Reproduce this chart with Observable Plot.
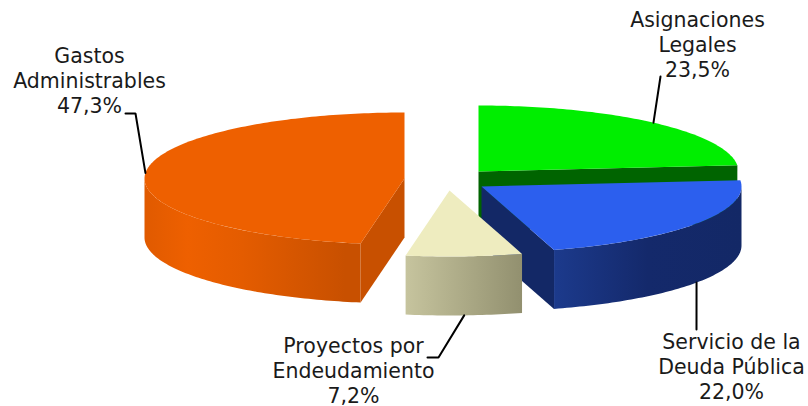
<!DOCTYPE html>
<html lang="es">
<head>
<meta charset="utf-8">
<title>Distribución del gasto</title>
<script src="https://cdn.jsdelivr.net/npm/d3@7"></script>
<script src="https://cdn.jsdelivr.net/npm/@observablehq/plot@0.6"></script>
<style>
  html, body { margin: 0; padding: 0; background: #fff; }
  svg { display: block; }
</style>
</head>
<body>
<div id="chart"></div>
<script>
// Budget shares, clockwise from twelve o'clock
const categories = ["Asignaciones\nLegales", "Servicio de la\nDeuda Pública", "Proyectos por\nEndeudamiento", "Gastos\nAdministrables"];
const shares = [23.5, 22.0, 7.2, 47.3];

// Colours per slice
const topColors = ["#00ee00", "#2c5fee", "#eeecbf", "#ee6000"];
const cutColors = ["#006400", "#132866", "#c0bf98", "#c85000"];
const rimStops = [
  [[0, "#006400"], [1, "#006400"]],
  [[0, "#1c3a8c"], [0.5, "#14296b"], [1, "#132866"]],
  [[0, "#c6c49e"], [1, "#92906f"]],
  [[0, "#e05a00"], [0.2, "#ee6000"], [0.45, "#e45c00"], [0.93, "#c85000"], [1, "#c85000"]]
];

// Pie geometry in chart units: tilted ellipse, wall height, exploded slice centres
const radiusX = 260;
const radiusY = 66;
const wall = 59;
const centerX = [478, 481, 449, 404];
const centerY = [171, 186, 190, 178];

// Label placement and the elbow of each leader line
const labelX = [697, 731, 353, 89];
const labelY = [76, 398, 402, 112];
const elbows = [
  [[660, 76]],
  [[696, 329]],
  [[438, 357], [427, 357]],
  [[135, 113], [125, 113]]
];

const total = d3.sum(shares);
const cumulative = d3.cumsum(shares);
const bounds = shares.map((d, i) => [(cumulative[i] - d) / total * 2 * Math.PI, cumulative[i] / total * 2 * Math.PI]);

const rimPoint = (i, a, drop = 0) => ({
  x: centerX[i] + radiusX * Math.sin(a),
  y: centerY[i] - radiusY * Math.cos(a) + drop
});

function arc(i, a0, a1, drop = 0) {
  const n = Math.max(2, Math.ceil((a1 - a0) / (Math.PI / 180)));
  return d3.range(n + 1).map(k => rimPoint(i, a0 + (a1 - a0) * k / n, drop));
}

const polygon = (points, fill) => Plot.line([...points, points[0]], {x: "x", y: "y", fill, stroke: "none", curve: "linear"});

// One slice: its visible cut faces, its front rim wall and its top surface
function sliceMarks(i) {
  const [a0, a1] = bounds[i];
  const apex = {x: centerX[i], y: centerY[i]};
  const marks = [];
  const cutFace = a => [apex, rimPoint(i, a), rimPoint(i, a, wall), {x: apex.x, y: apex.y + wall}];
  if (Math.sin(a0) < -1e-6) marks.push(polygon(cutFace(a0), cutColors[i]));
  if (Math.sin(a1) > 1e-6) marks.push(polygon(cutFace(a1), cutColors[i]));
  const from = Math.max(a0, Math.PI / 2);
  const to = Math.min(a1, 3 * Math.PI / 2);
  if (to > from) {
    marks.push(polygon([...arc(i, from, to), ...arc(i, from, to, wall).reverse()], `url(#rim${i})`));
  }
  marks.push(polygon([apex, ...arc(i, a0, a1)], topColors[i]));
  return marks;
}

function gradients() {
  const defs = d3.create("svg:defs");
  rimStops.forEach((stops, i) => {
    const g = defs.append("linearGradient").attr("id", `rim${i}`).attr("x1", 0).attr("x2", 1).attr("y1", 0).attr("y2", 0);
    stops.forEach(([offset, color]) => g.append("stop").attr("offset", offset).attr("stop-color", color));
  });
  return defs.node();
}

function leaderPoints(i) {
  const a = (bounds[i][0] + bounds[i][1]) / 2;
  const front = Math.cos(a) < 0;
  const start = rimPoint(i, a, front ? wall : 0);
  return [start, ...elbows[i].map(([x, y]) => ({x, y}))];
}

const labels = categories.map((name, i) => ({
  text: `${name}\n${shares[i].toFixed(1).replace(".", ",")}%`,
  x: labelX[i],
  y: labelY[i]
}));

const drawOrder = [3, 0, 1, 2];

const chart = Plot.plot({
  width: 808,
  height: 406,
  margin: 0,
  x: {domain: [0, 808], range: [0, 808], axis: null},
  y: {domain: [0, 406], range: [0, 406], axis: null},
  style: {background: "#fff"},
  marks: [
    gradients,
    ...drawOrder.flatMap(sliceMarks),
    ...categories.map((_, i) => Plot.line(leaderPoints(i), {x: "x", y: "y", stroke: "#000", strokeWidth: 2, curve: "linear", strokeLinejoin: "miter"})),
    Plot.text(labels, {
      x: "x",
      y: "y",
      text: "text",
      textAnchor: "middle",
      lineAnchor: "bottom",
      lineHeight: 1.2,
      fontFamily: "DejaVu Sans",
      fontSize: 20.5,
      fill: "#1a1a1a"
    })
  ]
});

document.getElementById("chart").append(chart);
</script>
</body>
</html>
